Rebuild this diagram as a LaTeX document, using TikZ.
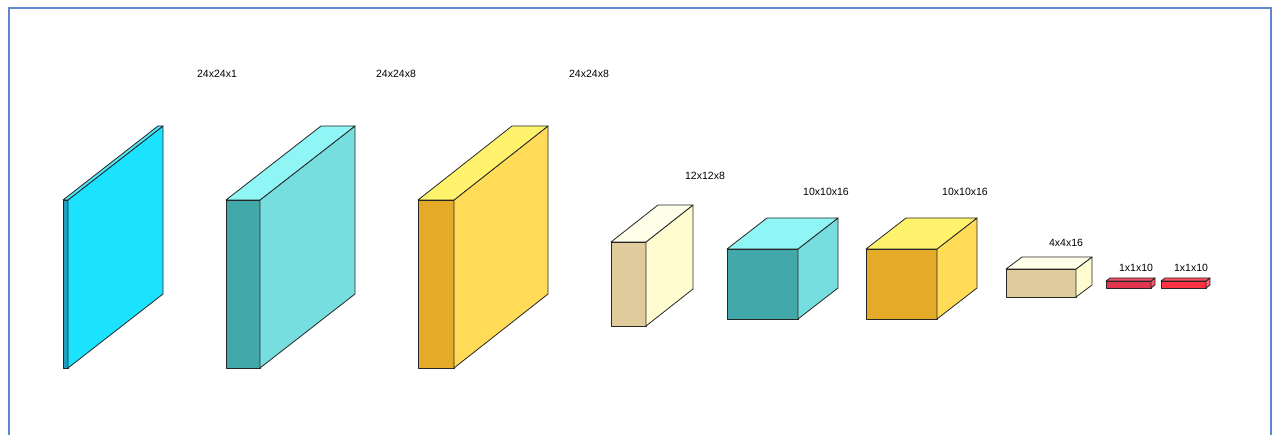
\documentclass[tikz,border=0pt]{standalone}
\usepackage{fontspec}
\setmainfont{Liberation Sans}
\usetikzlibrary{positioning}
\definecolor{MarcoAzul}{HTML}{4472C4}
\definecolor{CianFrente}{HTML}{1F9FBF}
\definecolor{CianLado}{HTML}{1BE3FF}
\definecolor{CianTapa}{HTML}{4FE8FA}
\definecolor{TealFrente}{HTML}{43A8AA}
\definecolor{TealLado}{HTML}{77DEDF}
\definecolor{TealTapa}{HTML}{8FF5F5}
\definecolor{OroFrente}{HTML}{E4AA28}
\definecolor{OroLado}{HTML}{FFDB58}
\definecolor{OroTapa}{HTML}{FFF36E}
\definecolor{CremaFrente}{HTML}{E0CB9C}
\definecolor{CremaLado}{HTML}{FFFDD0}
\definecolor{CremaTapa}{HTML}{FFFEE8}
\definecolor{RojoFrente}{HTML}{E0344F}
\definecolor{RojoLado}{HTML}{F25A70}
\definecolor{RojoTapa}{HTML}{F0506A}
\definecolor{RojoVivo}{HTML}{FF3344}
\definecolor{RojoVivoLado}{HTML}{FF6070}
\definecolor{RojoVivoTapa}{HTML}{FF5060}
% capa 3D: x, y (arriba-izq. de la cara frontal), ancho, alto, dx, dy, colores
\newcommand{\capa}[9]{%
  \draw[cara, fill=#7] (#1,#2) rectangle ++(#3,#4);
  \draw[cara, fill=#8] (#1+#3,#2) -- ++(#5,-#6) -- ++(0,#4) -- ++(-#5,#6) -- cycle;
  \draw[cara, fill=#9] (#1,#2) -- ++(#5,-#6) -- ++(#3,0) -- ++(-#5,#6) -- cycle;
}
\tikzset{
  cara/.style  = {draw=black!85, line width=0.8pt, line join=round},
  etiq/.style  = {font=\fontsize{10.5}{12}\selectfont, inner sep=0pt},
  marco/.style = {draw=MarcoAzul!85, line width=1.5pt},
}
\begin{document}
\begin{tikzpicture}[x=1pt, y=-1pt]
  \useasboundingbox (0,0) rectangle (1272,435);
  \draw[marco] (9,436) -- (9,8) -- (1271,8) -- (1271,436);

  \capa{63}{200}{5}{168}{95}{74}{CianFrente}{CianLado}{CianTapa}
  \capa{226}{200}{34}{168}{95}{74}{TealFrente}{TealLado}{TealTapa}
  \capa{418}{200}{36}{168}{94}{74}{OroFrente}{OroLado}{OroTapa}
  \capa{611}{242}{35}{84}{47}{37}{CremaFrente}{CremaLado}{CremaTapa}
  \capa{727}{249}{71}{70}{40}{31}{TealFrente}{TealLado}{TealTapa}
  \capa{866}{249}{71}{70}{40}{31}{OroFrente}{OroLado}{OroTapa}
  \capa{1006}{269}{70}{28}{16}{12}{CremaFrente}{CremaLado}{CremaTapa}
  \capa{1106}{281}{45}{7}{4}{3}{RojoFrente}{RojoLado}{RojoTapa}
  \capa{1161}{281}{45}{7}{4}{3}{RojoVivo}{RojoVivoLado}{RojoVivoTapa}

  \node[etiq] (e1) at (217,74)  {24x24x1};
  \node[etiq] (e2) at (396,74)  {24x24x8};
  \node[etiq] (e3) at (589,74)  {24x24x8};
  \node[etiq] (e4) at (705,176) {12x12x8};
  \node[etiq] (e5) at (826,192) {10x10x16};
  \node[etiq] (e6) at (965,192) {10x10x16};
  \node[etiq] (e7) at (1066,243) {4x4x16};
  \node[etiq] (e8) at (1136,268) {1x1x10};
  \node[etiq] (e9) at (1191,268) {1x1x10};
\end{tikzpicture}
\end{document}
